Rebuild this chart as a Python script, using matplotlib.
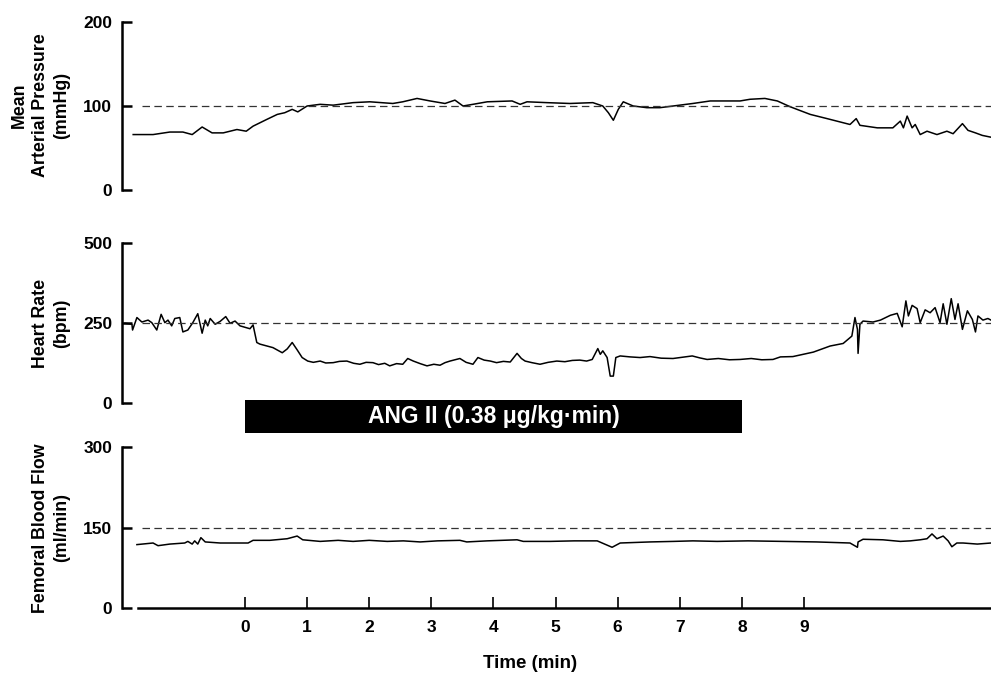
import matplotlib.pyplot as plt
from matplotlib.patches import Rectangle
from matplotlib.transforms import blended_transform_factory

plt.rcParams['font.family'] = 'Liberation Sans'
plt.rcParams['font.weight'] = 'bold'

# Time in minutes relative to start of ANG II infusion
map_t = [-1.80, -1.48, -1.21, -1.00, -0.85, -0.69, -0.53, -0.35, -0.13, 0.02,
         0.13, 0.35, 0.52, 0.64, 0.76, 0.85, 1.00, 1.21, 1.42, 1.74,
         2.01, 2.38, 2.54, 2.77, 2.98, 3.22, 3.38, 3.51, 3.67, 3.90,
         4.30, 4.43, 4.54, 4.86, 5.23, 5.60, 5.76, 5.85, 5.93, 6.01,
         6.09, 6.25, 6.47, 6.68, 7.21, 7.49, 7.97, 8.13, 8.37, 8.57,
         8.78, 9.10, 9.37, 9.74, 9.84, 9.90, 10.18, 10.43, 10.55, 10.60,
         10.66, 10.74, 10.79, 10.87, 10.98, 11.14, 11.30, 11.40, 11.55, 11.64,
         11.76, 11.87, 12.00]
map_v = [66, 66, 69, 69, 66, 75, 68, 68, 72, 70,
         76, 84, 90, 92, 96, 93, 100, 102, 101, 104,
         105, 103, 105, 109, 106, 103, 107, 100, 102, 105,
         106, 102, 105, 104, 103, 104, 100, 92, 83, 96,
         105, 100, 98, 98, 103, 106, 106, 108, 109, 106,
         99, 90, 85, 78, 85, 77, 74, 74, 82, 74,
         88, 74, 78, 66, 70, 66, 70, 67, 79, 71,
         68, 65, 63]

hr_t = [-1.93, -1.82, -1.81, -1.74, -1.66, -1.56, -1.50, -1.42, -1.35, -1.29,
        -1.24, -1.18, -1.13, -1.05, -1.00, -0.92, -0.84, -0.76, -0.69, -0.64,
        -0.60, -0.56, -0.48, -0.40, -0.31, -0.24, -0.16, -0.08, 0.03, 0.08,
        0.13, 0.19, 0.24, 0.45, 0.60, 0.68, 0.76, 0.84, 0.92,
        1.01, 1.10, 1.21, 1.30, 1.42, 1.52, 1.64, 1.75, 1.85, 1.95,
        2.06, 2.15, 2.25, 2.33, 2.44, 2.54, 2.62, 2.71, 2.82, 2.93,
        3.04, 3.14, 3.22, 3.30, 3.38, 3.46, 3.56, 3.67, 3.75, 3.85,
        3.95, 4.05, 4.16, 4.27, 4.38, 4.45, 4.51, 4.62, 4.75, 4.88,
        5.02, 5.15, 5.27, 5.39, 5.50, 5.59,
        5.68, 5.72, 5.76, 5.83, 5.88, 5.93, 5.97,
        6.04, 6.20, 6.36, 6.52, 6.70, 6.89, 7.05, 7.20, 7.32, 7.44,
        7.62, 7.80, 7.97, 8.15, 8.32, 8.50, 8.62, 8.82, 9.15,
        9.42, 9.63, 9.77, 9.82, 9.86, 9.87, 9.90, 9.95, 10.11, 10.23,
        10.39, 10.50, 10.58, 10.64, 10.68, 10.74, 10.82, 10.87, 10.95, 11.03,
        11.11, 11.19, 11.24, 11.30, 11.37, 11.43, 11.48, 11.55, 11.63, 11.71,
        11.76, 11.80, 11.88, 11.96, 12.01]
hr_v = [250, 247, 229, 268, 254, 260, 252, 229, 278, 252,
        260, 242, 265, 268, 223, 229, 252, 280, 219, 260,
        242, 265, 247, 256, 271, 250, 257, 242, 236, 233,
        245, 190, 185, 174, 158, 170, 190, 167, 143,
        132, 128, 132, 126, 127, 131, 132, 125, 122, 128,
        127, 121, 125, 117, 124, 122, 140, 132, 124, 117,
        122, 119, 127, 132, 136, 140, 128, 122, 143, 135,
        132, 127, 131, 129, 156, 140, 132, 127, 122, 128,
        132, 130, 134, 135, 132, 137,
        171, 153, 164, 143, 85, 85, 143,
        148, 145, 143, 146, 141, 140, 144, 148, 142, 137,
        140, 136, 137, 140, 136, 137, 145, 146, 160,
        179, 187, 210, 268, 231, 156, 247, 257, 254, 260,
        275, 281, 239, 320, 273, 306, 296, 252, 292, 283,
        299, 252, 311, 247, 327, 262, 311, 231, 289, 262,
        223, 273, 260, 265, 260]

fbf_t = [-1.74, -1.48, -1.40, -1.21, -0.97, -0.92, -0.85, -0.81, -0.76, -0.71,
         -0.64, -0.40, 0.05, 0.13, 0.40, 0.68, 0.84, 0.93, 1.21, 1.50,
         1.74, 2.00, 2.29, 2.55, 2.82, 3.10, 3.46, 3.57, 3.90, 4.38,
         4.48, 4.91, 5.30, 5.67, 5.91, 6.04, 6.52, 6.90, 7.21, 7.60,
         8.10, 8.66, 9.20, 9.74, 9.86, 9.87, 9.95, 10.27, 10.55, 10.71,
         10.87, 10.98, 11.06, 11.14, 11.24, 11.32, 11.38, 11.46, 11.56, 11.79,
         12.01]
fbf_v = [118, 121, 116, 119, 121, 124, 119, 125, 119, 131,
         123, 121, 121, 126, 126, 129, 134, 127, 124, 126,
         124, 126, 124, 125, 123, 125, 126, 123, 125, 127,
         124, 124, 125, 125, 113, 121, 123, 124, 125, 124,
         125, 124, 123, 121, 113, 123, 128, 127, 124, 125,
         127, 129, 138, 129, 134, 125, 114, 121, 121, 119,
         121]

# dashed reference levels, y ranges, tick values
map_ref, hr_ref, fbf_ref = 100, 250, 150
map_ticks = [0, 100, 200]
hr_ticks = [0, 250, 500]
fbf_ticks = [0, 150, 300]
time_ticks = [0, 1, 2, 3, 4, 5, 6, 7, 8, 9]
t_min, t_max = -1.98, 12.01
ref_start = -1.66
axis_start = -1.72

drug_on, drug_off = 0, 8
drug_label = 'ANG II (0.38 μg/kg·min)'

W, H = 991, 675
fig = plt.figure(figsize=(W / 100, H / 100), dpi=100)


def axes_at(top_px, bottom_px):
    return fig.add_axes([122 / W, 1 - bottom_px / H, 1 - 122 / W, (bottom_px - top_px) / H])


ax_map = axes_at(22, 190)
ax_hr = axes_at(243.3, 403.3)
ax_fbf = axes_at(447.3, 607.7)

panels = [(ax_map, map_t, map_v, map_ref, map_ticks),
          (ax_hr, hr_t, hr_v, hr_ref, hr_ticks),
          (ax_fbf, fbf_t, fbf_v, fbf_ref, fbf_ticks)]

for ax, t, v, ref, ticks in panels:
    ax.plot(t, v, color='black', lw=1.1)
    ax.set_xlim(t_min, t_max)
    ax.set_ylim(ticks[0], ticks[-1])
    ax.axhline(ref, xmin=(ref_start - t_min) / (t_max - t_min), xmax=1,
               color='#333333', lw=0.9, ls=(0, (6, 3.5)))
    ax.set_yticks(ticks)
    ax.tick_params(axis='y', direction='in', length=7, width=1.8, pad=7, labelsize=12.5)
    for s in ['top', 'right', 'bottom']:
        ax.spines[s].set_visible(False)
    ax.spines['left'].set_linewidth(1.8)
    ax.set_xticks([])

# time axis only on the bottom panel
ax_fbf.spines['bottom'].set_visible(True)
ax_fbf.spines['bottom'].set_linewidth(1.8)
ax_fbf.spines['bottom'].set_bounds(axis_start, t_max)
ax_fbf.set_xticks(time_ticks)
ax_fbf.tick_params(axis='x', direction='in', length=8, width=1.2, pad=9, labelsize=12.5)

# y labels
fig.text(70 / W, 1 - 105 / H, 'Mean\nArterial Pressure\n(mmHg)', rotation=90,
         ha='right', va='center', multialignment='center', linespacing=1.3, fontsize=12.8)
fig.text(70 / W, 1 - 323 / H, 'Heart Rate\n(bpm)', rotation=90,
         ha='right', va='center', multialignment='center', linespacing=1.3, fontsize=12.8)
fig.text(70 / W, 1 - 528 / H, 'Femoral Blood Flow\n(ml/min)', rotation=90,
         ha='right', va='center', multialignment='center', linespacing=1.3, fontsize=12.8)

fig.text(530 / W, 1 - 663 / H, 'Time (min)', ha='center', va='center', fontsize=13.5)

# infusion bar
trans = blended_transform_factory(ax_fbf.transData, fig.transFigure)
bar = Rectangle((drug_on, 1 - 433 / H), drug_off - drug_on, 33 / H,
                transform=trans, facecolor='black', edgecolor='none', clip_on=False, zorder=2)
fig.add_artist(bar)
fig.text((drug_on + drug_off) / 2, 1 - 417 / H, drug_label, transform=trans,
         color='white', ha='center', va='center', fontsize=16.5, zorder=3)

fig.savefig('out.png', dpi=100)
